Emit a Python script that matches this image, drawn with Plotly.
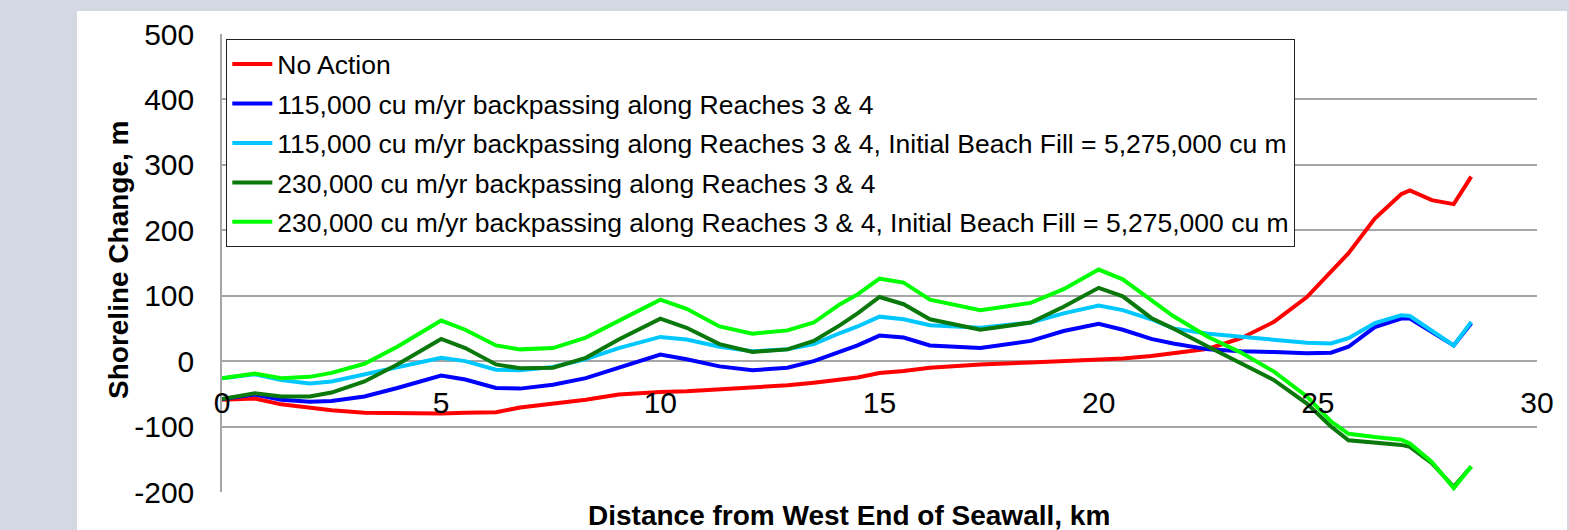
import plotly.graph_objects as go

# Distance from west end of seawall (km)
distance_km = [0.0, 0.75, 1.35, 2.0, 2.5, 3.25, 4.0, 5.0, 5.55, 6.25, 6.8, 7.55, 8.3, 9.05,
               10.0, 10.6, 11.35, 12.1, 12.9, 13.5, 14.1, 14.5, 15.0, 15.55, 16.15, 17.3,
               18.45, 19.2, 20.0, 20.55, 21.2, 21.7, 22.5, 23.25, 24.0, 24.75, 25.3, 25.7,
               26.3, 26.9, 27.1, 27.6, 28.1, 28.5]

no_action = [-59, -57, -66, -71, -75, -79, -80, -80, -79, -78, -71, -65, -59, -51,
             -47, -46, -43, -40, -37, -33, -28, -25, -18, -15, -10, -5,
             -2, 0, 2, 4, 8, 12, 19, 35, 60, 98, 138, 165,
             218, 255, 261, 246, 240, 282]

bp115 = [-58, -51, -59, -62, -61, -54, -41, -22, -28, -41, -42, -36, -26, -10,
         10, 3, -8, -14, -10, 0, 15, 24, 39, 36, 24, 20,
         31, 46, 57, 48, 34, 27, 18, 15, 14, 12, 13, 22,
         52, 65, 65, 45, 24, 58]

bp115_fill = [-26, -20, -29, -34, -31, -20, -9, 5, 0, -13, -14, -9, 3, 20,
              37, 33, 22, 15, 18, 26, 43, 53, 68, 64, 55, 51,
              59, 73, 85, 78, 64, 50, 42, 37, 32, 28, 27, 35,
              58, 70, 69, 47, 24, 60]

bp230 = [-58, -49, -54, -54, -48, -31, -5, 34, 20, -5, -11, -10, 5, 33,
         65, 51, 26, 14, 18, 31, 55, 73, 98, 87, 64, 48,
         59, 83, 112, 99, 66, 50, 22, -4, -29, -65, -100, -121,
         -125, -128, -131, -156, -192, -161]

bp230_fill = [-26, -19, -26, -24, -18, -4, 22, 62, 48, 24, 18, 20, 36, 61,
              94, 80, 53, 42, 47, 59, 87, 102, 126, 120, 94, 78,
              89, 110, 140, 125, 94, 69, 37, 13, -16, -54, -92, -111,
              -116, -120, -126, -154, -194, -161]

series_names = [
    "No Action",
    "115,000 cu m/yr backpassing along Reaches 3 & 4",
    "115,000 cu m/yr backpassing along Reaches 3 & 4, Initial Beach Fill = 5,275,000 cu m",
    "230,000 cu m/yr backpassing along Reaches 3 & 4",
    "230,000 cu m/yr backpassing along Reaches 3 & 4, Initial Beach Fill = 5,275,000 cu m",
]
series_values = [no_action, bp115, bp115_fill, bp230, bp230_fill]
series_colors = ["#ff0000", "#0000ff", "#00c8ff", "#0a780a", "#00ff00"]

x_ticks = [0, 5, 10, 15, 20, 25, 30]
x_tick_labels = ["0", "5", "10", "15", "20", "25", "30"]
y_ticks = [-200, -100, 0, 100, 200, 300, 400, 500]
y_tick_labels = ["-200", "-100", "0", "100", "200", "300", "400", "500"]

fig = go.Figure()
for i, (name, vals, col) in enumerate(zip(series_names, series_values, series_colors)):
    fig.add_trace(go.Scatter(
        x=distance_km, y=vals, name=name, mode="lines",
        line=dict(color=col, width=4), legendgroup=f"g{i}",
    ))

W, H = 1569, 530
L, R, T, B = 222, 32, 34, 38
pw, ph = W - L - R, H - T - B

def px(xp):
    return (xp - L) / pw

def py(yp):
    return (H - B - yp) / ph

grid = "#a6a6a6"
fig.update_layout(
    width=W, height=H,
    margin=dict(l=L, r=R, t=T, b=B, autoexpand=False),
    paper_bgcolor="#d3d8e2",
    plot_bgcolor="white",
    font=dict(family="Liberation Sans, Arial, sans-serif", color="black"),
    showlegend=True,
    legend=dict(
        x=px(226), y=py(39), xanchor="left", yanchor="top",
        bgcolor="white", bordercolor="#222222", borderwidth=1.3,
        font=dict(size=26.5, family="Liberation Sans, Arial, sans-serif"),
        tracegroupgap=2, traceorder="grouped", itemwidth=40,
    ),
    xaxis=dict(
        range=[0, 30], tickvals=x_ticks, ticktext=x_tick_labels, showgrid=False, zeroline=False,
        showline=False, anchor="free", position=200 / 700,
        ticks="", ticklabelstandoff=21,
        tickfont=dict(size=30),
    ),
    yaxis=dict(
        range=[-200, 500], tickvals=y_ticks, ticktext=y_tick_labels, showgrid=True, gridcolor=grid,
        gridwidth=1.5, zeroline=False, showline=True, linecolor=grid, linewidth=1.5,
        ticks="", ticklabelstandoff=20, tickfont=dict(size=30),
    ),
    shapes=[dict(type="rect", xref="paper", yref="paper",
                 x0=px(77), x1=px(1567), y0=py(530), y1=py(11),
                 fillcolor="white", line=dict(width=0), layer="below")],
    annotations=[
        dict(text="<b>Distance from West End of Seawall, km</b>", xref="paper", yref="paper",
             x=px(849), y=py(515), xanchor="center", yanchor="middle", showarrow=False,
             font=dict(size=28)),
        dict(text="<b>Shoreline Change, m</b>", xref="paper", yref="paper",
             x=px(118), y=py(260), xanchor="center", yanchor="middle", showarrow=False,
             textangle=-90, font=dict(size=28)),
    ],
)

fig.write_html("out.html",
               config={"displayModeBar": False},
               post_script="document.body.style.margin='0px';"
                           "document.body.style.background='#d3d8e2';"
                           "document.body.style.overflow='hidden';")
